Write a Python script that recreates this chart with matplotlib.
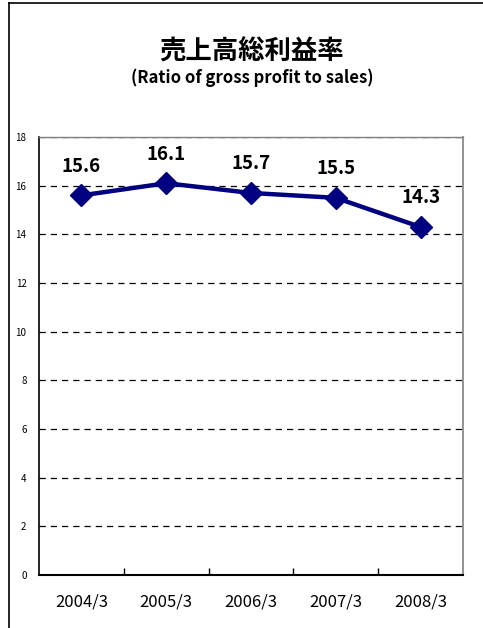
import matplotlib
matplotlib.use("Agg")
import matplotlib.pyplot as plt
from matplotlib.lines import Line2D
import numpy as np

categories = ["2004/3", "2005/3", "2006/3", "2007/3", "2008/3"]
values = [15.6, 16.1, 15.7, 15.5, 14.3]
yticks = [0, 2, 4, 6, 8, 10, 12, 14, 16, 18]
title = "売上高総利益率"
subtitle = "(Ratio of gross profit to sales)"

plt.rcParams['font.family'] = ['Noto Sans CJK JP', 'DejaVu Sans']

fig = plt.figure(figsize=(4.83, 6.28), dpi=100)
fig.add_artist(Line2D([9/483, 1.0], [1-3/628, 1-3/628], color='black', lw=1.2, transform=fig.transFigure))
fig.add_artist(Line2D([9/483, 9/483], [0, 1-3/628], color='black', lw=1.2, transform=fig.transFigure))

ax = fig.add_axes([39/483, 53/628, (463-39)/483, (575-137)/628])
x = np.arange(len(categories))
ax.plot(x, values, color='#000080', lw=3.2, marker='D', markersize=11, zorder=5, clip_on=False)
for xi, v in zip(x, values):
    ax.annotate(f"{v}", (xi, v), xytext=(0, 21), textcoords='offset points',
                ha='center', va='center', color='black', fontsize=13.5, fontweight='bold')

ax.set_xlim(-0.5, len(categories) - 0.5)
ax.set_ylim(0, 18)
ax.set_yticks(yticks)
ax.set_yticklabels([str(t) for t in yticks], fontsize=7)
ax.tick_params(axis='y', length=0, pad=9)
ax.set_xticks(x)
ax.set_xticklabels(categories, fontsize=12)
ax.tick_params(axis='x', which='major', length=0, pad=13)
ax.set_xticks(np.arange(0.5, len(categories) - 0.5, 1), minor=True)
ax.tick_params(axis='x', which='minor', direction='in', length=5, width=1, color='black')

for t in yticks[1:]:
    ax.axhline(t, color='black', lw=0.9, linestyle=(0, (5, 4)), zorder=1)

ax.spines['left'].set_color('black')
ax.spines['left'].set_linewidth(1.2)
ax.spines['bottom'].set_color('black')
ax.spines['bottom'].set_linewidth(1.5)
ax.spines['right'].set_color('#808080')
ax.spines['right'].set_linewidth(1.2)
ax.spines['top'].set_color('#808080')
ax.spines['top'].set_linewidth(1.0)

fig.text(252/483, 1 - 52/628, title, ha='center', va='center', fontsize=19, fontweight='bold')
fig.text(252/483, 1 - 78/628, subtitle, ha='center', va='center', fontsize=12, fontweight='bold')

fig.savefig("out.png", dpi=100)
